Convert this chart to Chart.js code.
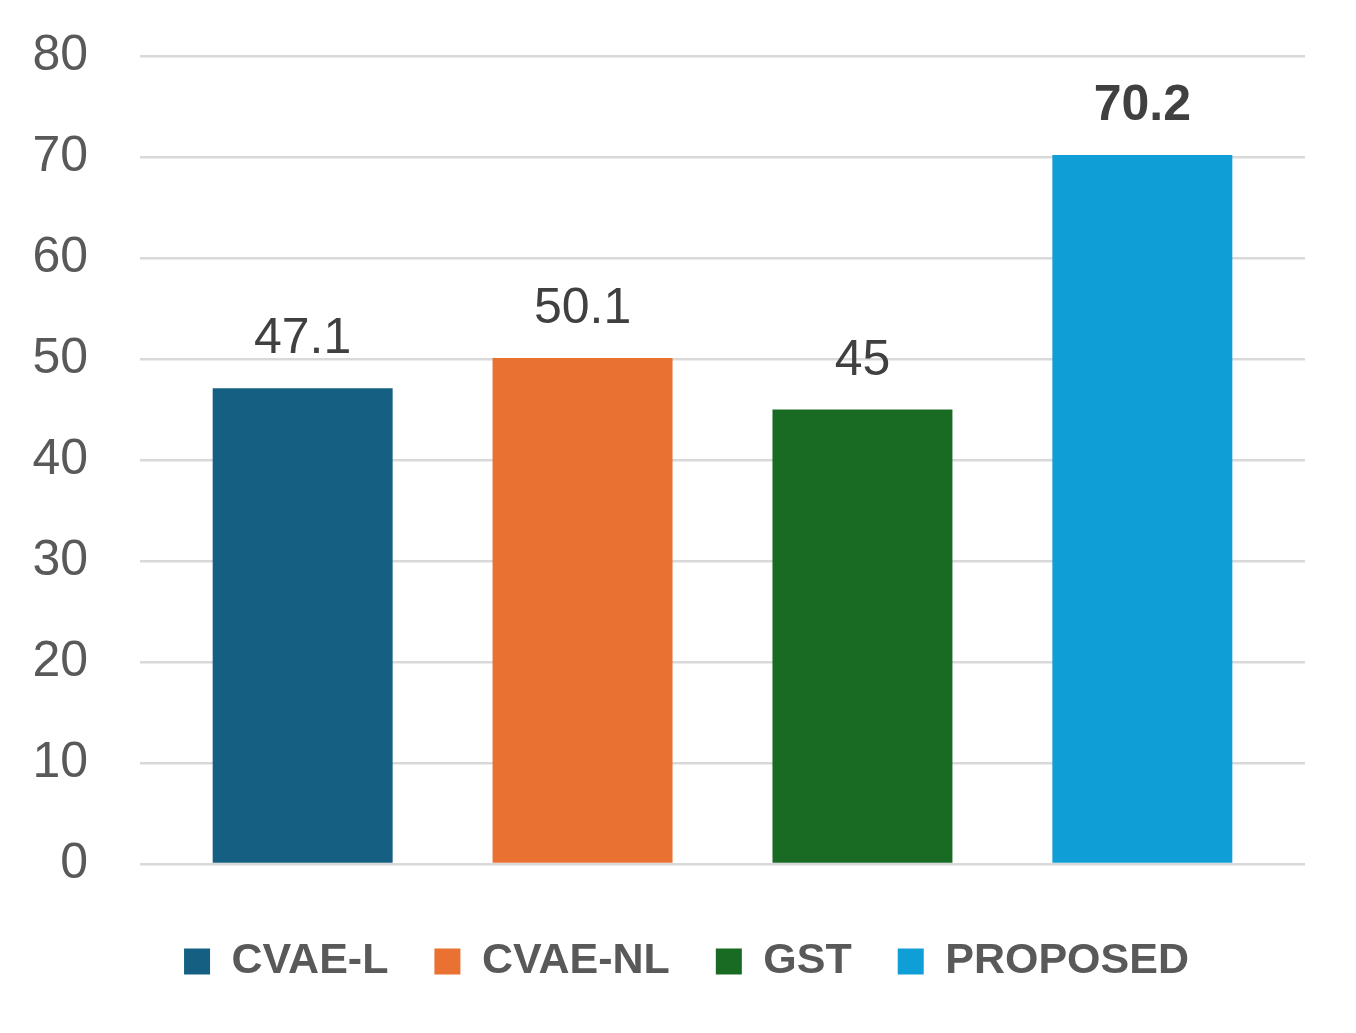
<!DOCTYPE html>
<html>
<head>
<meta charset="utf-8">
<script src="https://cdn.jsdelivr.net/npm/chart.js@4"></script>
<style>
  html, body { margin: 0; padding: 0; background: #ffffff; }
  #wrap { width: 1356px; height: 1033px; }
</style>
</head>
<body>
<div id="wrap"><canvas id="chart" width="1356" height="1033"></canvas></div>
<script>
// Chart data
const seriesNames = ["CVAE-L", "CVAE-NL", "GST", "PROPOSED"];
const seriesValues = [47.1, 50.1, 45, 70.2];
const seriesColors = ["#156082", "#E97132", "#196B24", "#0F9ED5"];
const yTicks = [0, 10, 20, 30, 40, 50, 60, 70, 80];

const FONT = "'Liberation Sans', Arial, sans-serif";

// Value labels above bars (last one bold)
const valueLabels = {
  id: "valueLabels",
  afterDatasetsDraw(chart) {
    const ctx = chart.ctx;
    ctx.save();
    ctx.textAlign = "center";
    ctx.textBaseline = "alphabetic";
    ctx.fillStyle = "#404040";
    chart.data.datasets.forEach((ds, i) => {
      const bar = chart.getDatasetMeta(i).data[0];
      const bold = i === chart.data.datasets.length - 1;
      ctx.font = (bold ? "bold " : "") + "50px " + FONT;
      ctx.fillText(String(ds.data[0]), bar.x, bar.y - 35);
    });
    ctx.restore();
  },
};

// legend sits a bit right of the canvas centre
const legendShift = {
  id: "legendShift",
  afterLayout(chart) {
    chart.legend.left += 34;
    chart.legend.right += 34;
  },
};

const ctx = document.getElementById("chart").getContext("2d");
new Chart(ctx, {
  type: "bar",
  data: {
    labels: [""],
    datasets: seriesNames.map((name, i) => ({
      label: name,
      data: [seriesValues[i]],
      backgroundColor: seriesColors[i],
      borderWidth: 0,
      categoryPercentage: 0.961,
      barPercentage: 0.643,
    })),
  },
  options: {
    responsive: false,
    animation: false,
    layout: { padding: { top: 56, right: 51, left: 0, bottom: 40 } },
    scales: {
      x: {
        display: true,
        afterFit: (scale) => { scale.height = 30; },
        border: { display: false },
        grid: { display: false },
        ticks: { display: false },
      },
      y: {
        min: 0,
        max: 80,
        afterFit: (scale) => {
          scale.width = 140;
          scale.paddingTop = 0;
          scale.paddingBottom = 0;
        },
        afterBuildTicks: (scale) => { scale.ticks = yTicks.map((v) => ({ value: v })); },
        border: { display: false },
        grid: { color: "#d9d9d9", lineWidth: 2.5, drawTicks: false },
        ticks: {
          padding: 52,
          color: "#595959",
          font: { family: FONT, size: 50 },
        },
      },
    },
    plugins: {
      legend: {
        position: "bottom",
        labels: {
          boxWidth: 26,
          boxHeight: 26,
          padding: 46,
          color: "#595959",
          font: { family: FONT, size: 43, weight: "bold" },
        },
      },
      tooltip: { enabled: false },
    },
  },
  plugins: [valueLabels, legendShift],
});
</script>
</body>
</html>
